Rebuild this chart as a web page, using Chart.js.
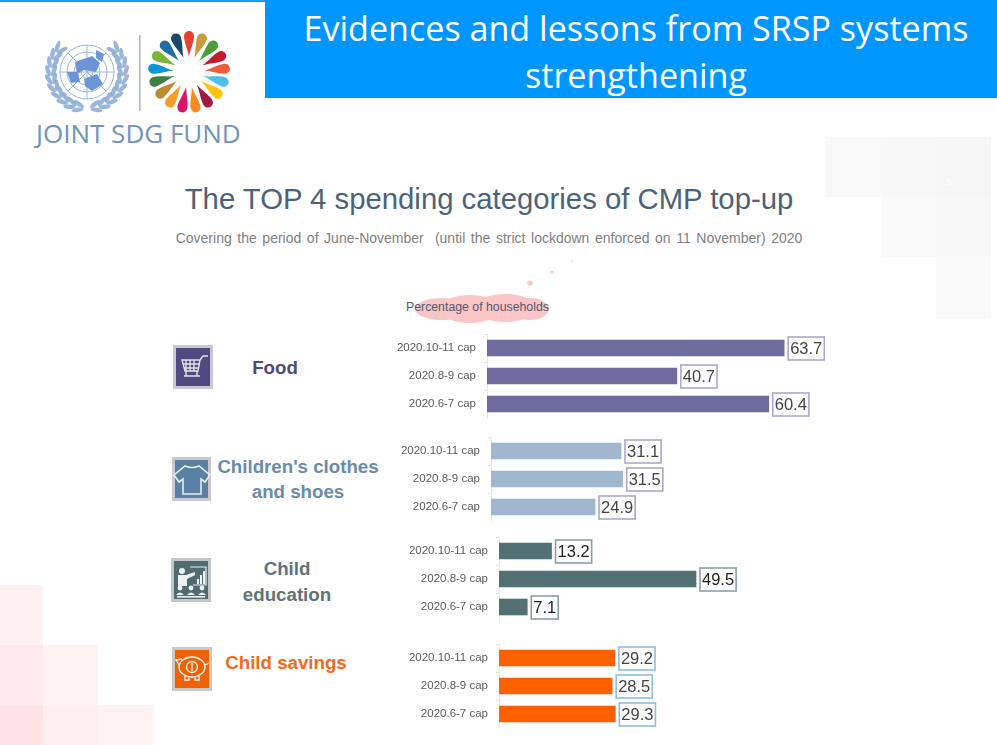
<!DOCTYPE html>
<html>
<head>
<meta charset="utf-8">
<title>The TOP 4 spending categories of CMP top-up</title>
<script src="https://cdn.jsdelivr.net/npm/chart.js@4"></script>
<style>
    html, body { margin: 0; padding: 0; background: #fff; }
    #page { position: relative; width: 997px; height: 745px; overflow: hidden; background: #fff; font-family: "Liberation Sans", sans-serif; }
    #page > * { position: absolute; }
    .sq { display: block; }
    .center { text-align: center; transform: translateX(-50%); white-space: pre; }
    .heading { font-weight: bold; font-size: 18.7px; line-height: 25.5px; }
    canvas { display: block; }
</style>
</head>
<body>
<div id="page">
    <!-- faint squares in the background -->
    <div class="sq" style="left:825px;top:137px;width:56px;height:60px;background:#f9f9f9"></div>
    <div class="sq" style="left:881px;top:137px;width:55px;height:60px;background:#f8f8f8"></div>
    <div class="sq" style="left:936px;top:137px;width:55px;height:60px;background:#f6f6f6"></div>
    <div class="sq" style="left:881px;top:197px;width:55px;height:60px;background:#fafafa"></div>
    <div class="sq" style="left:936px;top:197px;width:55px;height:60px;background:#f8f8f8"></div>
    <div class="sq" style="left:936px;top:257px;width:55px;height:62px;background:#fafafa"></div>
    <div style="left:946px;top:174px;color:#fff;font-size:12px">s</div>

    <div class="sq" style="left:0;top:585px;width:43px;height:60px;background:#fff0f1"></div>
    <div class="sq" style="left:0;top:645px;width:43px;height:60px;background:#ffe9ea"></div>
    <div class="sq" style="left:43px;top:645px;width:55px;height:60px;background:#fff2f2"></div>
    <div class="sq" style="left:0;top:705px;width:43px;height:40px;background:#ffe3e5"></div>
    <div class="sq" style="left:43px;top:705px;width:55px;height:40px;background:#ffeeef"></div>
    <div class="sq" style="left:98px;top:705px;width:55px;height:40px;background:#fff2f2"></div>

    <!-- header -->
    <div style="left:0;top:0;width:265px;height:2px;background:#1e9af0"></div>
    <div style="left:265px;top:0;width:732px;height:98px;background:#0096ff"></div>
    <div class="center" style="left:636px;top:5px;color:#fff;font:34.1px/47px 'Open Sans',sans-serif">Evidences and lessons from SRSP systems
strengthening</div>

    <!-- logo -->
    <svg id="logo" style="left:0;top:0" width="265" height="150" viewBox="0 0 265 150"></svg>
    <div style="left:36px;top:117px;color:#6f94bd;font:26px/32px 'Open Sans',sans-serif;white-space:pre">JOINT SDG FUND</div>

    <!-- titles -->
    <div class="center" style="left:489px;top:181px;color:#4b6378;font-size:29.3px;line-height:36px">The TOP 4 spending categories of CMP top-up</div>
    <div class="center" style="left:489px;top:230px;color:#808080;font-size:14px;line-height:17px;word-spacing:1.7px">Covering the period of June-November  (until the strict lockdown enforced on 11 November) 2020</div>

    <!-- pink cloud behind the axis title -->
    <svg style="left:400px;top:250px" width="190" height="80" viewBox="400 250 190 80">
        <g fill="#fcc6c6">
            <ellipse cx="442" cy="309" rx="27" ry="11"/>
            <ellipse cx="470" cy="309" rx="30" ry="14"/>
            <ellipse cx="505" cy="308" rx="30" ry="14"/>
            <ellipse cx="530" cy="309" rx="19" ry="11"/>
            <circle cx="530" cy="283" r="2.6"/>
            <circle cx="552" cy="272" r="1.5"/>
            <circle cx="572" cy="261" r="1" fill="#e6dede"/>
        </g>
    </svg>
    <div style="left:406px;top:300px;color:#4e5a70;font-size:12.3px;line-height:15px;white-space:pre">Percentage of households</div>

    <!-- icons -->
    <svg style="left:173px;top:345px" width="40" height="44" viewBox="0 0 40 44">
        <rect x="1.5" y="1.5" width="37" height="41" fill="#4f4a7f" stroke="#c9c9cd" stroke-width="3"/>
        <g fill="none" stroke="#e4e3ee" stroke-width="1.4">
            <path d="M9 15 H27 L25 26 H12 Z"/>
            <path d="M13 15 V26 M17 15 V26 M21 15 V26 M10 19 H26 M11 23 H26"/>
            <path d="M27 15 L30 11 H35"/>
            <path d="M13 26 V31 M24 26 V31 M11 31 H27"/>
        </g>
    </svg>
    <svg style="left:172px;top:457px" width="40" height="44" viewBox="0 0 40 44">
        <rect x="1.5" y="1.5" width="36" height="41" fill="#5a80a3" stroke="#c9c9cd" stroke-width="3"/>
        <path d="M13 9 Q20 12 27 9 L38 18 L33 25 L29 22 V37 H11 V22 L7 25 L2 18 Z" fill="none" stroke="#e6edf3" stroke-width="1.6"/>
    </svg>
    <svg style="left:171px;top:558px" width="40" height="44" viewBox="0 0 40 44">
        <rect x="1.5" y="1.5" width="37" height="41" fill="#4f6d70" stroke="#c2c8c9" stroke-width="3"/>
        <g fill="#eef2f2">
            <circle cx="11" cy="13" r="3"/>
            <path d="M7 17 H15 L24 14 V17 L16 21 V28 H7 Z"/>
            <circle cx="9" cy="30" r="2.4"/><circle cx="20" cy="30" r="2.4"/><circle cx="31" cy="30" r="2.4"/>
            <path d="M5 37 Q9 32 13 37 Z M16 37 Q20 32 24 37 Z M27 37 Q31 32 35 37 Z"/>
            <rect x="6" y="38" width="28" height="1.6"/>
            <path d="M26 21 h2 v5 h-2 Z M29 17 h2 v9 h-2 Z M32 13 h2 v13 h-2 Z"/>
        </g>
        <path d="M19 9 H35 V27 H22" fill="none" stroke="#eef2f2" stroke-width="1.2"/>
    </svg>
    <svg style="left:172px;top:647px" width="40" height="44" viewBox="0 0 40 44">
        <rect x="1.5" y="1.5" width="37" height="41" fill="#f26000" stroke="#c9c9c9" stroke-width="3"/>
        <g fill="none" stroke="#fff" stroke-width="1.3">
            <ellipse cx="20" cy="20" rx="13" ry="10"/>
            <circle cx="20" cy="20" r="5.5"/>
            <path d="M13 29 V33 H17 V30 M23 30 V33 H27 V29 M33 18 L37 16 M7 18 L4 13 L10 12"/>
            <path d="M20 16 V24"/>
        </g>
    </svg>

    <!-- group headings -->
    <div class="center heading" style="left:275px;top:355px;color:#4f4a7a">Food</div>
    <div class="center heading" style="left:298px;top:454px;color:#6a8cab;line-height:25px">Children's clothes
and shoes</div>
    <div class="center heading" style="left:287px;top:556px;color:#5c7577">Child
education</div>
    <div class="center heading" style="left:286px;top:650px;color:#f26a1b">Child savings</div>

    <!-- charts -->
    <canvas id="foodChart" width="450" height="84" style="left:390px;top:334px"></canvas>
    <canvas id="clothesChart" width="450" height="84" style="left:390px;top:437px"></canvas>
    <canvas id="educationChart" width="450" height="84" style="left:390px;top:537px"></canvas>
    <canvas id="savingsChart" width="450" height="84" style="left:390px;top:644px"></canvas>
</div>

<script>
    const periods = ["2020.10-11 cap", "2020.8-9 cap", "2020.6-7 cap"];
    const foodValues = [63.7, 40.7, 60.4];
    const clothesValues = [31.1, 31.5, 24.9];
    const educationValues = [13.2, 49.5, 7.1];
    const savingsValues = [29.2, 28.5, 29.3];

    // SDG wheel petals, clockwise from the top
    const petalColors = ["#e8402e", "#c89b3d", "#4c9f38", "#c5192d", "#ef5b3b", "#4cc0e8", "#fcc30b",
        "#a21942", "#f58a1f", "#dd1367", "#f99d26", "#bf8b2e", "#3f7e44", "#0a97d9", "#7fb53c", "#1f6fa6", "#19486a"];

    // Boxed value at the end of each bar
    const valueBoxes = {
        id: "valueBoxes",
        afterDatasetsDraw(chart, args, opts) {
            const ctx = chart.ctx;
            const dataset = chart.data.datasets[0];
            chart.getDatasetMeta(0).data.forEach((bar, i) => {
                const boxX = bar.x + 4;
                const boxY = bar.y - 11;
                const text = dataset.data[i].toFixed(1);
                ctx.save();
                ctx.font = "16.5px 'Liberation Sans'";
                const boxW = ctx.measureText(text).width + 4;
                ctx.fillStyle = "#fff";
                ctx.strokeStyle = opts.color;
                ctx.lineWidth = 1.6;
                ctx.fillRect(boxX, boxY, boxW, 23);
                ctx.strokeRect(boxX, boxY, boxW, 23);
                ctx.fillStyle = opts.textColor;
                ctx.textAlign = "center";
                ctx.textBaseline = "middle";
                ctx.fillText(text, boxX + boxW / 2, bar.y + 1);
                ctx.restore();
            });
        }
    };

    function makePanel(id, values, barColor, boxColor, textColor, axisWidth, unitPx) {
        new Chart(document.getElementById(id), {
            type: "bar",
            plugins: [valueBoxes],
            data: {
                labels: periods,
                datasets: [{ data: values, backgroundColor: barColor, barThickness: 16 }]
            },
            options: {
                indexAxis: "y",
                responsive: false,
                animation: false,
                layout: { padding: 0 },
                scales: {
                    x: { display: false, min: 0, max: (450 - axisWidth) / unitPx },
                    y: {
                        afterFit: scale => {
                            scale.width = axisWidth;
                            // tick labels should not eat into the bands
                            scale.paddingTop = 0;
                            scale.paddingBottom = 0;
                        },
                        border: { color: "#e6e6e6" },
                        grid: { drawOnChartArea: false, tickLength: 3, tickColor: "#e0e0e0" },
                        ticks: { color: "#5a5a5a", padding: 8, font: { family: "'Liberation Sans'", size: 11.5 } }
                    }
                },
                plugins: {
                    legend: { display: false },
                    tooltip: { enabled: false },
                    valueBoxes: { color: boxColor, textColor: textColor }
                }
            }
        });
    }

    makePanel("foodChart", foodValues, "#6e6b9f", "#aaa7cf", "#444", 97, 4.665);
    makePanel("clothesChart", clothesValues, "#a0b7cf", "#aaa7cf", "#444", 101, 4.18);
    makePanel("educationChart", educationValues, "#537073", "#8aa0a3", "#222", 109, 3.98);
    makePanel("savingsChart", savingsValues, "#ff6000", "#8cbde6", "#444", 109, 3.97);

    // Logo: UN emblem and SDG wheel
    function drawLogo() {
        const blue = "#7ea3d2";
        let svg = `<rect x="139" y="35" width="1.6" height="76" fill="#a7bacb"/>`;
        petalColors.forEach((color, i) => {
            const angle = i * 360 / petalColors.length;
            svg += `<path transform="translate(189 72) rotate(${angle})" d="M0 -15 C-1 -22 -5 -30 -5 -36 A5 5 0 0 1 5 -36 C5 -30 1 -22 0 -15 Z" fill="${color}"/>`;
        });
        svg += `<g fill="none" stroke="#9ab8dc" stroke-width="1">
            <circle cx="87" cy="72" r="27"/><circle cx="87" cy="72" r="20"/><circle cx="87" cy="72" r="13"/><circle cx="87" cy="72" r="6"/>
            <path d="M87 45 V99 M60 72 H114 M68 53 L106 91 M106 53 L68 91"/></g>`;
        svg += `<g fill="#6c95d8">
            <path d="M75 62 L92 56 L100 63 L96 72 L84 70 L77 74 Z"/>
            <path d="M67 72 L78 72 L80 82 L71 83 Z"/>
            <path d="M84 79 L97 74 L103 84 L92 91 L85 86 Z"/>
            <path d="M96 50 L104 54 L102 62 L96 58 Z"/></g>`;
        // laurel branches, mirrored around the emblem centre
        [33, 39].forEach(r => {
            for (let i = 0; i < 10; i++) {
                const theta = 14 + i * 13;
                const rad = theta * Math.PI / 180;
                const lx = 87 - r * Math.sin(rad);
                const ly = 72 + r * Math.cos(rad);
                const deg = theta - 90 + (r > 35 ? -22 : 22);
                const mx = 174 - lx;
                svg += `<ellipse cx="${lx}" cy="${ly}" rx="2.2" ry="6" transform="rotate(${deg} ${lx} ${ly})" fill="${blue}" opacity="0.8"/>`;
                svg += `<ellipse cx="${mx}" cy="${ly}" rx="2.2" ry="6" transform="rotate(${-deg} ${mx} ${ly})" fill="${blue}" opacity="0.8"/>`;
            }
        });
        document.getElementById("logo").innerHTML = svg;
    }
    drawLogo();
</script>
</body>
</html>
